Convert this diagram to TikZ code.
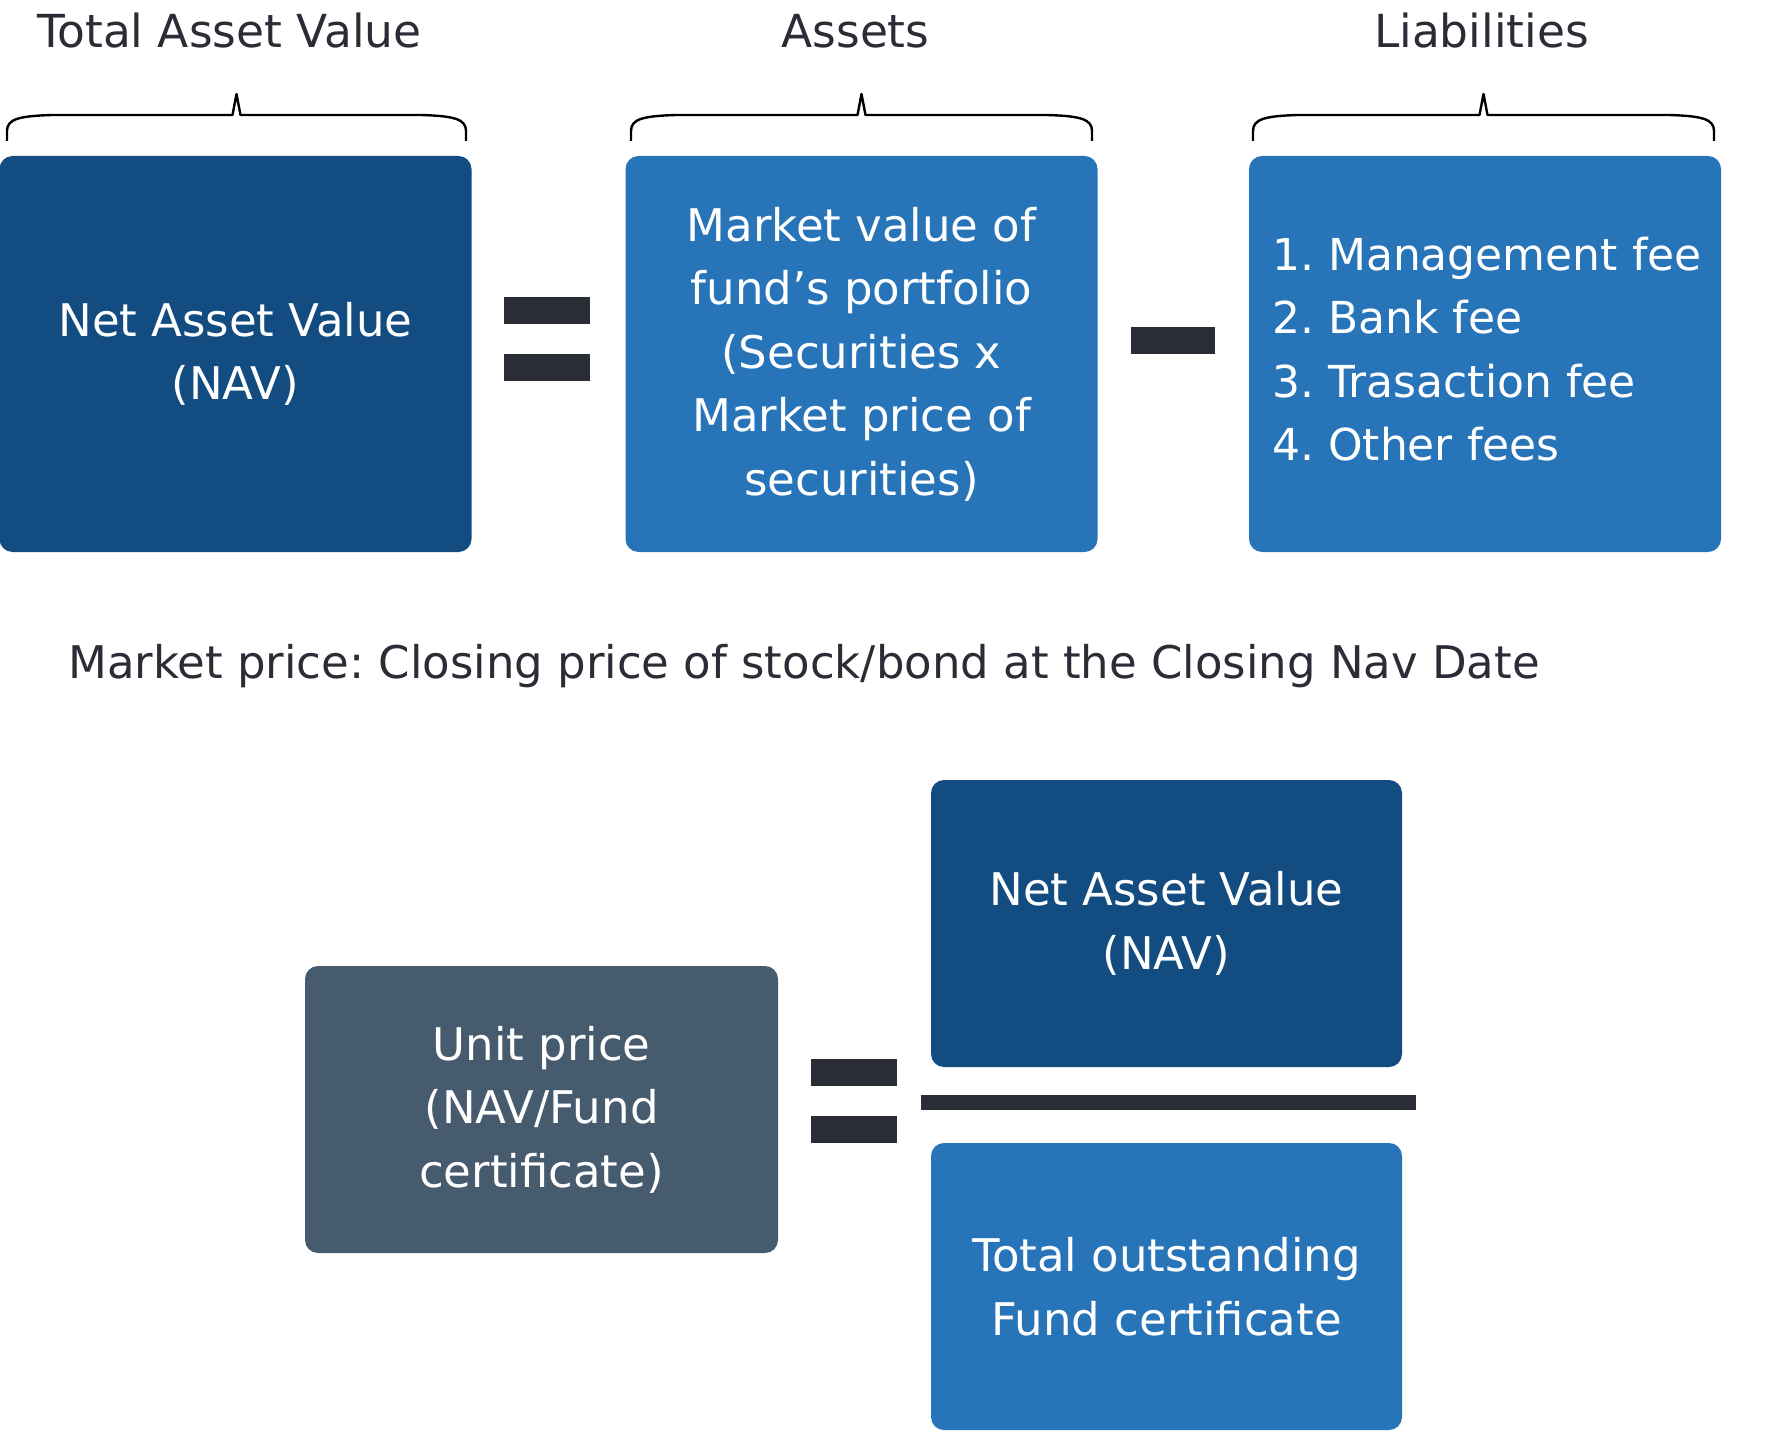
\documentclass[tikz,border=0pt]{standalone}
\usepackage{fontspec}
\setmainfont{DejaVu Sans}
\frenchspacing
\definecolor{navdark}{HTML}{124C81}
\definecolor{midblue}{HTML}{2774B9}
\definecolor{slate}{HTML}{465B6E}
\definecolor{ink}{HTML}{2A2D35}
\tikzset{
  box/.style={rectangle, rounded corners=13pt, text=white, align=center,
    minimum width=472pt, minimum height=396pt, inner sep=0pt,
    font=\fontsize{45}{63.5}\selectfont},
  smallbox/.style={box, minimum height=287pt},
  header/.style={anchor=base, text=ink, inner sep=0pt, font=\fontsize{45.5}{54}\selectfont},
  bar/.style={fill=ink},
  bracestyle/.style={draw=black, line width=2.4pt, line join=round}
}
\begin{document}
\begin{tikzpicture}[x=1pt,y=-1pt]
\useasboundingbox (0,0) rectangle (1785,1431);

% headers
\node[header] (h1) at (229.5,48) {Total Asset Value};
\node[header] (h2) at (855.5,48) {Assets};
\node[header] (h3) at (1481.5,48) {Liabilities};

% braces
\foreach \a/\b in {7/466, 631/1092, 1253/1714} {
  \pgfmathsetmacro\m{(\a+\b)/2}
  \draw[bracestyle] (\a,141) -- (\a,131) .. controls (\a,119) and (\a+12,116) .. (\a+45,115)
    -- (\m-4,115) -- (\m,94) -- (\m+4,115) -- (\b-45,115)
    .. controls (\b-12,116) and (\b,119) .. (\b,131) -- (\b,141);
}

% top row boxes
\node[box, fill=navdark] (nav) at (235.5,354) {Net Asset Value\\(NAV)};
\node[box, fill=midblue] (assets) at (861.5,354) {Market value of\\fund’s portfolio\\(Securities x\\Market price of\\securities)};
\node[box, fill=midblue] (liab) at (1485,354) {};
\node[anchor=west, inner sep=0pt, text=white, align=left,
  font=\fontsize{44}{63.5}\selectfont] (liabtext) at (1272,349)
  {1. Management fee\\2. Bank fee\\3. Trasaction fee\\4. Other fees};

% operators top
\fill[bar] (504,297) rectangle (590,324);
\fill[bar] (504,354) rectangle (590,381);
\fill[bar] (1131,327) rectangle (1215,354);

% note
\node[anchor=base west, inner sep=0pt, text=ink, font=\fontsize{45}{50}\selectfont] (note) at (68,678)
  {Market price: Closing price of stock/bond at the Closing Nav Date};

% bottom formula
\node[smallbox, fill=slate, minimum width=473pt] (unit) at (541.5,1109.5) {Unit price\\(NAV/Fund\\certificate)};
\node[smallbox, fill=navdark, minimum width=471pt] (nav2) at (1166.5,923.5) {Net Asset Value\\(NAV)};
\node[smallbox, fill=midblue, minimum width=471pt] (total) at (1166.5,1286.5) {Total outstanding\\Fund certificate};
\fill[bar] (921,1095) rectangle (1416,1110);
\fill[bar] (811,1059) rectangle (897,1086);
\fill[bar] (811,1116) rectangle (897,1143);
\end{tikzpicture}
\end{document}
